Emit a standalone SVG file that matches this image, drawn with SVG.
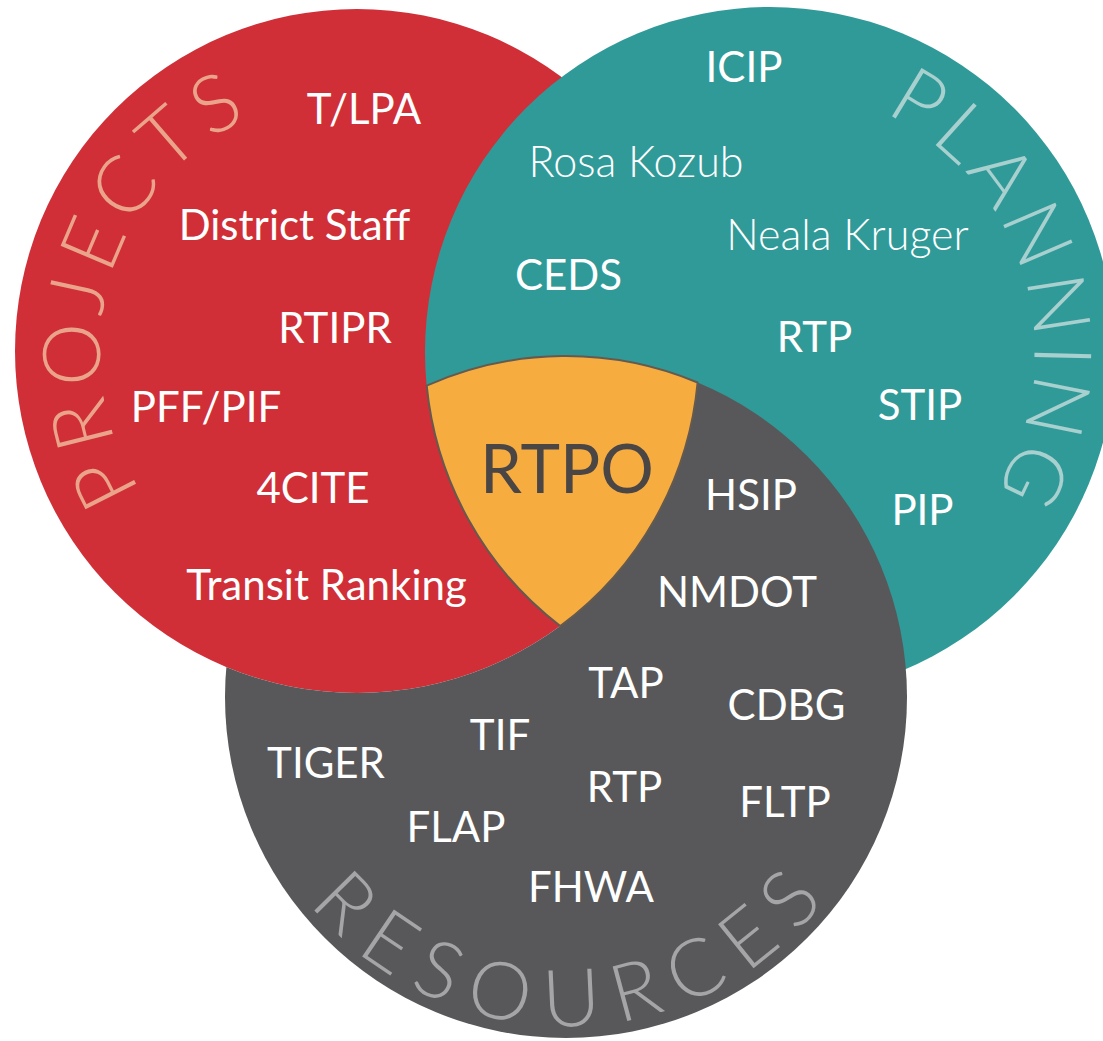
<svg xmlns="http://www.w3.org/2000/svg" xmlns:xlink="http://www.w3.org/1999/xlink" width="1103" height="1041" viewBox="0 0 1103 1041">
<style>
.item{font-family:Lato,"Open Sans","Liberation Sans",sans-serif;font-size:42px;fill:#ffffff;text-anchor:middle}
.name{font-weight:300;font-size:43px}
.title{font-family:Lato,"Open Sans","Liberation Sans",sans-serif;font-weight:300;font-size:80px;text-anchor:middle}
.rtpo{font-family:Lato,"Open Sans","Liberation Sans",sans-serif;font-size:67px;fill:#4a4645;text-anchor:middle}
</style>
<defs>
<clipPath id="outsideR"><path clip-rule="evenodd" d="M0 0H1103V1041H0Z M15 351a342 342 0 1 0 684 0a342 342 0 1 0 -684 0Z"/></clipPath>
<path id="arcP" d="M 260.7 589.3 A 257 257 0 0 1 410.4 99.6"/>
<path id="arcL" d="M 712.2 93.4 A 265 265 0 0 1 871.8 596.6"/>
<path id="arcR" d="M 238.8 731.4 A 329 329 0 0 0 894.2 720.0"/>
</defs>
<rect width="1103" height="1041" fill="#ffffff"/>
<g id="projects">
<circle cx="357" cy="351" r="342" fill="#d02f37"/>
<text class="title" fill="#eba48c" letter-spacing="9"><textPath href="#arcP" startOffset="50%">PROJECTS</textPath></text>
<text class="item" x="364" y="124">T/LPA</text>
<text class="item" x="294.5" y="240">District Staff</text>
<text class="item" x="335" y="343">RTIPR</text>
<text class="item" x="206" y="422">PFF/PIF</text>
<text class="item" x="313" y="503">4CITE</text>
<text class="item" x="326.5" y="600">Transit Ranking</text>
</g>
<g id="planning">
<circle cx="770" cy="352" r="345" fill="#309a99"/>
<text class="title" fill="#a8d0cf" letter-spacing="6"><textPath href="#arcL" startOffset="51%">PLANNING</textPath></text>
<text class="item" x="744" y="82">ICIP</text>
<text class="item name" x="636" y="177">Rosa Kozub</text>
<text class="item name" x="847.5" y="250">Neala Kruger</text>
<text class="item" x="568.5" y="290">CEDS</text>
<text class="item" x="814.5" y="352">RTP</text>
<text class="item" x="920" y="420">STIP</text>
<text class="item" x="922.5" y="525">PIP</text>
</g>
<g id="resources">
<circle cx="566" cy="697" r="341" fill="#58585a" clip-path="url(#outsideR)"/>
<text class="title" fill="#a5a5a7" letter-spacing="17.5"><textPath href="#arcR" startOffset="50.5%">RESOURCES</textPath></text>
<text class="item" x="751" y="510">HSIP</text>
<text class="item" x="737" y="607">NMDOT</text>
<text class="item" x="626" y="698">TAP</text>
<text class="item" x="786.5" y="720">CDBG</text>
<text class="item" x="500" y="750">TIF</text>
<text class="item" x="326" y="778">TIGER</text>
<text class="item" x="624.5" y="802">RTP</text>
<text class="item" x="785" y="817">FLTP</text>
<text class="item" x="456" y="842">FLAP</text>
<text class="item" x="591" y="902">FHWA</text>
</g>
<g id="rtpo">
<path d="M 426.7 385.7 A 341 341 0 0 1 697.6 382.5 A 342 342 0 0 1 560.3 626.0 A 345 345 0 0 1 426.7 385.7 Z" fill="#f7ac40" stroke="#655a4f" stroke-width="2"/>
<text class="rtpo" x="567" y="493">RTPO</text>
</g>
<g id="connectors"/>
</svg>
